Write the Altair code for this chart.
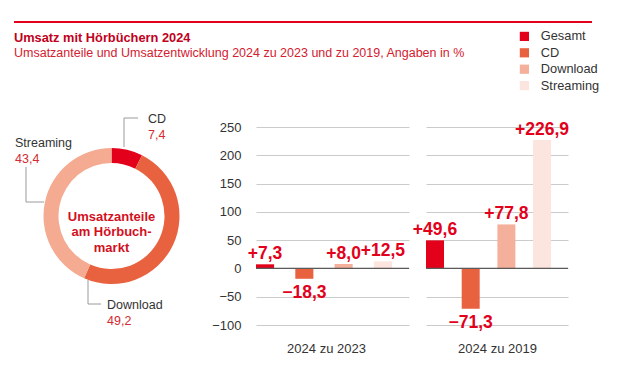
import altair as alt
import pandas as pd

# ---------------- data ----------------
categories = ["Gesamt", "CD", "Download", "Streaming"]
change_2023 = [7.3, -18.3, 8.0, 12.5]
change_2019 = [49.6, -71.3, 77.8, 226.9]
periods = ["2024 zu 2023", "2024 zu 2019"]
share_segments = ["CD", "Download", "Streaming"]
share_values = [7.4, 49.2, 43.4]
y_ticks = [-100, -50, 0, 50, 100, 150, 200, 250]
title_text = "Umsatz mit Hörbüchern 2024"
subtitle_text = "Umsatzanteile und Umsatzentwicklung 2024 zu 2023 und zu 2019, Angaben in %"
center_lines = ["Umsatzanteile", "am Hörbuch-", "markt"]

# ---------------- style ----------------
FONT = "Liberation Sans"
RED = "#e2001a"
bar_colors = [RED, "#e9623f", "#f4b09a", "#fce5de"]
donut_colors = [RED, "#e9623f", "#f4ab91"]
TXT = "#333333"


def de(v, signed=False):
    s = f"{v:+.1f}" if signed else f"{v:.1f}"
    return s.replace(".", ",").replace("-", "\u2212")


# ---------------- header ----------------
hdr = alt.Chart(pd.DataFrame({"title": [title_text], "subtitle": [subtitle_text]}))
hdr_rule = hdr.mark_rule(color=RED, strokeWidth=2).encode(
    x=alt.value(0), x2=alt.value(578), y=alt.value(0))
hdr_title = hdr.mark_text(align="left", baseline="middle", font=FONT, fontSize=12.8,
                          fontWeight="bold", color="#c1001c").encode(
    x=alt.value(0), y=alt.value(16), text="title:N")
hdr_sub = hdr.mark_text(align="left", baseline="middle", font=FONT, fontSize=12.5,
                        color="#d4202f").encode(
    x=alt.value(0), y=alt.value(31), text="subtitle:N")
header = alt.layer(hdr_rule, hdr_title, hdr_sub).properties(width=579, height=90)

# ---------------- donut ----------------
DW, DH = 195, 178
donut_df = pd.DataFrame({"Segment": share_segments, "Anteil": share_values,
                         "Ordnung": list(range(len(share_segments)))})
# label anchor layout (pixel frame of the donut panel)
label_pos = {"CD": (134, -8), "Streaming": (1, 16), "Download": (93, 178)}
leader_pts = {"CD": [(110, 20), (110, -9), (124, -9)],
              "Streaming": [(30, 75), (12, 75), (12, 40)],
              "Download": [(74, 153), (74, 177), (87, 177)]}
lab_df = pd.DataFrame({
    "Segment": share_segments,
    "px": [label_pos[s][0] for s in share_segments],
    "py": [label_pos[s][1] for s in share_segments],
    "py2": [label_pos[s][1] + 16 for s in share_segments],
    "Wert": [de(v) for v in share_values],
})
lead_rows = []
for s in share_segments:
    for i, (lx, ly) in enumerate(leader_pts[s]):
        lead_rows.append({"Segment": s, "i": i, "lx": lx, "ly": ly})
lead_df = pd.DataFrame(lead_rows)

xs = alt.Scale(domain=[0, DW], nice=False, zero=False)
ys = alt.Scale(domain=[DH, 0], nice=False, zero=False)

arc = alt.Chart(donut_df).mark_arc(innerRadius=53, outerRadius=68).encode(
    theta=alt.Theta("Anteil:Q", stack=True),
    order=alt.Order("Ordnung:Q"),
    color=alt.Color("Segment:N", scale=alt.Scale(domain=share_segments, range=donut_colors),
                    legend=None),
)
leaders = alt.Chart(lead_df).mark_line(color="#9a9a9a", strokeWidth=1).encode(
    x=alt.X("lx:Q", scale=xs, axis=None),
    y=alt.Y("ly:Q", scale=ys, axis=None),
    detail="Segment:N",
    order="i:Q",
)
names = alt.Chart(lab_df).mark_text(align="left", baseline="middle", font=FONT,
                                    fontSize=12.5, color=TXT).encode(
    x=alt.X("px:Q", scale=xs, axis=None), y=alt.Y("py:Q", scale=ys, axis=None),
    text="Segment:N")
vals = alt.Chart(lab_df).mark_text(align="left", baseline="middle", font=FONT,
                                   fontSize=12.5, color="#d42a32").encode(
    x=alt.X("px:Q", scale=xs, axis=None), y=alt.Y("py2:Q", scale=ys, axis=None),
    text="Wert:N")
center = alt.Chart(pd.DataFrame({"t": ["\n".join(center_lines)]})).mark_text(
    align="center", baseline="middle", font=FONT, fontSize=13, fontWeight="bold",
    color="#d20f22", lineBreak="\n", lineHeight=15.5).encode(
    x=alt.value(DW / 2), y=alt.value(DH / 2 + 0.5), text="t:N")
donut = alt.layer(arc, leaders, names, vals, center).properties(width=DW, height=DH)


# ---------------- bar panels ----------------
def panel(values, title, width, p_in, p_out, show_labels, title_x, legend):
    df = pd.DataFrame({"Kategorie": categories, "Wert": values,
                       "Label": [de(v, True) for v in values]})
    x = alt.X("Kategorie:N", sort=categories,
              scale=alt.Scale(paddingInner=p_in, paddingOuter=p_out, align=0),
              axis=alt.Axis(labels=False, ticks=False, domain=False, grid=False,
                            title=title, titleX=title_x, titleY=23,
                            titleBaseline="middle", titleAlign="center", titleFont=FONT,
                            titleFontSize=13, titleFontWeight="normal", titleColor=TXT))
    y_scale = alt.Scale(domain=[-100, 250], nice=False)
    y_axis = alt.Axis(values=y_ticks, format="d", labels=show_labels, ticks=False,
                      domain=False, grid=True, gridColor="#cbcbcb", gridWidth=1,
                      labelPadding=15, labelFontSize=13, labelColor=TXT,
                      labelFont=FONT, labelOverlap=False, title=None)
    y = alt.Y("Wert:Q", scale=y_scale, axis=y_axis)
    base = alt.Chart(df)
    bars = base.mark_bar().encode(
        x=x, y=y,
        color=alt.Color("Kategorie:N", scale=alt.Scale(domain=categories, range=bar_colors),
                        legend=legend))
    zero = base.mark_rule(color="#5a5a5a", strokeWidth=1).encode(
        y=alt.YDatum(0, scale=y_scale, axis=y_axis, type="quantitative"))
    txt = dict(font=FONT, fontSize=17.5, fontWeight="bold", color=RED, align="center")
    pos = base.transform_filter("datum.Wert >= 0").mark_text(
        baseline="alphabetic", dy=-5, **txt).encode(x=x, y=y, text="Label:N")
    neg = base.transform_filter("datum.Wert < 0").mark_text(
        baseline="top", dy=5, **txt).encode(x=x, y=y, text="Label:N")
    return alt.layer(bars, zero, pos, neg).properties(width=width, height=198)


legend = alt.Legend(orient="none", legendX=262, legendY=-97, title=None,
                    symbolType="square", symbolSize=85, symbolStrokeWidth=0,
                    labelFontSize=12.8, labelFont=FONT, labelColor=TXT, labelOffset=10,
                    rowPadding=2.4, padding=0)
bars1 = panel(change_2023, periods[0], 153, 0.54, 0.2165, True, 70, legend)
bars2 = panel(change_2019, periods[1], 142, 0.496, 0.237, False, 71, None)

bars_row = alt.hconcat(bars1, bars2, spacing=17, bounds="flush")
row = alt.hconcat(donut, bars_row, spacing=47, bounds="flush").resolve_scale(
    color="independent")

chart = alt.vconcat(header, row, spacing=15, bounds="flush").properties(
    padding={"left": 5, "top": 13, "right": 5, "bottom": 5},
    background="white",
).configure(font=FONT).configure_view(strokeWidth=0, stroke=None)

chart.save("out.html", embed_options={"renderer": "svg", "actions": False})
